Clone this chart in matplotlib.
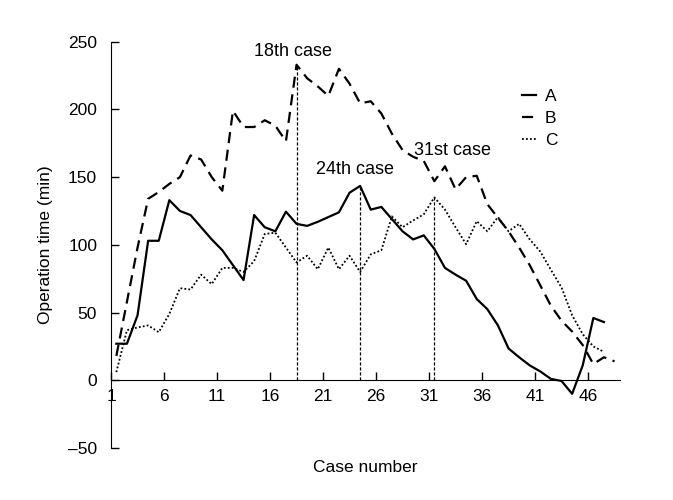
import numpy as np
import matplotlib
matplotlib.use('Agg')
import matplotlib.pyplot as plt

# Operation time (min) per case for the three surgeons
time_a = [27, 27, 48, 103, 103, 133, 125, 122, 113, 104, 96, 85, 74, 122,
          113, 110, 124.5, 115.5, 114, 117, 120.5, 124, 138.5, 143.5, 126,
          128, 119, 110, 104, 107, 97, 83, 78, 73.5, 60, 52.5, 40.5, 23.5,
          17, 11, 6.5, 1, -0.5, -10, 11, 46, 43]
time_b = [18, 58, 98, 134, 139, 145, 150, 166, 163, 150, 140, 199, 187, 187,
          192, 188, 176.5, 233, 223, 217, 210, 230, 219, 204.5, 206, 197,
          182, 170, 165, 162, 147, 158, 141, 150, 151, 130, 120, 110, 98,
          85, 70, 55, 44, 36, 26, 12, 17, 14]
time_c = [6, 37, 39, 40.5, 35.5, 49, 68, 67, 78, 71, 83, 83, 80, 88, 108,
          109, 98, 87, 92, 82, 98, 82, 92, 80, 93, 96, 121, 113, 118, 122.5,
          135, 126, 113, 100.5, 117.5, 110, 120.5, 110, 115.5, 104, 95, 81.5,
          68.5, 48, 34, 25, 21]
cases_a = np.arange(1, len(time_a) + 1)
cases_b = np.arange(1, len(time_b) + 1)
cases_c = np.arange(1, len(time_c) + 1)

x_ticks = [1, 6, 11, 16, 21, 26, 31, 36, 41, 46]
y_ticks = [-50, 0, 50, 100, 150, 200, 250]

# marked cases: (case, series, label)
marks = [(18, time_b, '18th case'), (24, time_a, '24th case'),
         (31, time_c, '31st case')]

plt.rcParams['font.family'] = ['Liberation Sans Narrow', 'Liberation Sans',
                               'DejaVu Sans']
plt.rcParams['font.size'] = 12.5

fig = plt.figure(figsize=(6.73, 5), dpi=100)
ax = fig.add_axes([0.165, 0.104, 0.756, 0.8126])

ax.plot(cases_a, time_a, color='black', lw=1.6, label='A')
ax.plot(cases_b, time_b, color='black', lw=1.6, dashes=(5, 3), label='B')
ax.plot(cases_c, time_c, color='black', lw=1.3, linestyle=(0, (1, 1.2)),
        label='C')

# vertical marker lines + labels
for case, series, text in marks:
    ax.vlines(case, 0, series[case - 1], color='black', lw=0.9,
              linestyles=(0, (2.5, 1.5)))
ax.text(17.7, 243, marks[0][2], ha='center', va='center', fontsize=13)
ax.text(23.5, 156, marks[1][2], ha='center', va='center', fontsize=13)
ax.text(32.7, 170, marks[2][2], ha='center', va='center', fontsize=13)

ax.set_xlim(0.5, 48.5)
ax.set_ylim(-50, 250)
ax.set_xticks(np.array(x_ticks) - 0.5)
ax.set_xticklabels([str(t) for t in x_ticks])
ax.set_yticks(y_ticks)
ax.set_yticklabels([str(t).replace('-', '\u2013') for t in y_ticks])
ax.tick_params(direction='in', length=6, width=1)
ax.tick_params(axis='x', pad=6)
ax.tick_params(axis='y', pad=10)

ax.spines['top'].set_visible(False)
ax.spines['right'].set_visible(False)
ax.spines['bottom'].set_position(('data', 0))
ax.spines['left'].set_bounds(-50, 250)

ax.set_xlabel('Case number')
ax.set_ylabel('Operation time (min)')
ax.xaxis.set_label_coords(0.5, -0.03)
ax.yaxis.set_label_coords(-0.115, 0.5)

ax.legend(loc='upper left', bbox_to_anchor=(0.79, 0.905), frameon=False,
          handlelength=0.85, handletextpad=0.5, labelspacing=0.4,
          borderpad=0)

plt.savefig('out.png', dpi=100)
